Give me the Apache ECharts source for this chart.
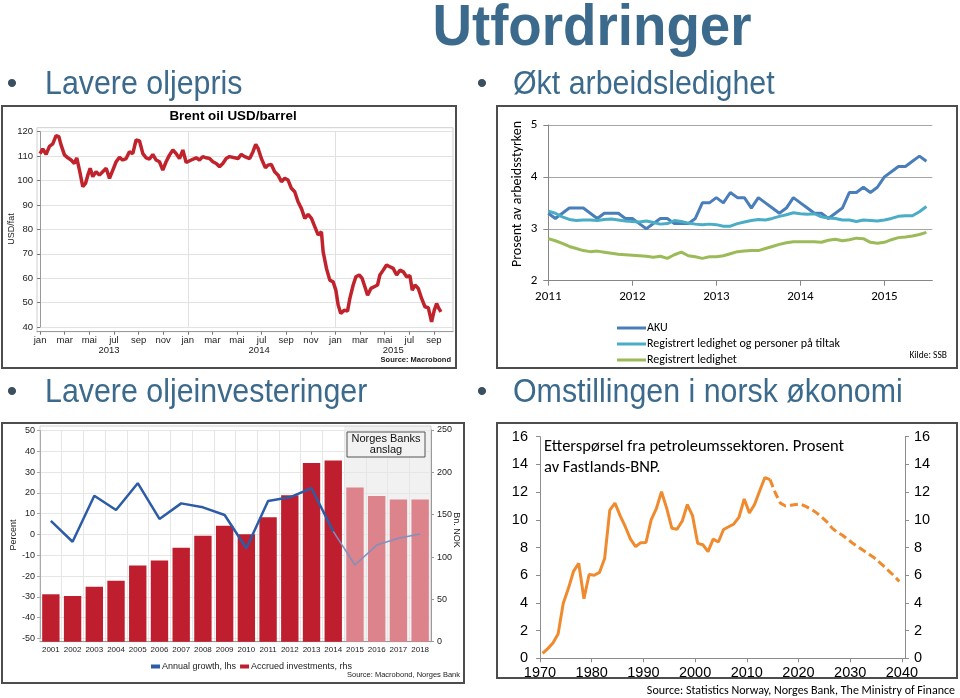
<!DOCTYPE html>
<html><head><meta charset="utf-8">
<script src="https://cdn.jsdelivr.net/npm/echarts@6/dist/echarts.min.js"></script>
<style>html,body{margin:0;padding:0;background:#fff}#c{width:960px;height:698px}</style>
</head><body><div id="c"></div>
<script>
// ---------- Brent oil (months since Jan 2013, USD/barrel) ----------
const brentMonths = [0.00,0.22,0.35,0.49,0.76,1.03,1.30,1.52,1.71,1.98,2.25,2.52,2.79,2.98,3.20,3.47,3.69,3.88,4.07,4.28,4.55,4.82,5.09,5.37,5.64,5.91,6.18,6.45,6.72,6.99,7.26,7.53,7.80,8.08,8.35,8.62,8.89,9.16,9.43,9.70,9.97,10.24,10.51,10.79,11.06,11.33,11.60,11.87,12.28,12.68,12.95,13.22,13.50,13.77,14.04,14.31,14.58,14.85,15.12,15.39,15.54,16.08,16.35,16.62,17.03,17.30,17.52,17.71,17.98,18.31,18.52,18.79,19.06,19.34,19.61,19.88,20.15,20.42,20.69,20.96,21.23,21.51,21.78,22.05,22.32,22.59,22.86,23.00,23.27,23.54,23.81,24.03,24.22,24.43,24.71,24.98,25.17,25.44,25.66,25.93,26.17,26.39,26.61,26.88,27.15,27.42,27.61,27.88,28.15,28.42,28.69,28.97,29.24,29.51,29.78,30.05,30.24,30.46,30.73,31.00,31.27,31.54,31.81,32.03,32.22,32.41,32.57];
const brentPrices = [111,113,112.5,110.7,114,115,118.4,118,114.5,110.5,109.3,108.4,107,109.3,104.3,97.5,98.8,102.2,105,101.6,103.6,102.2,103.6,105,100.9,104.3,107.7,109.5,108.4,109,111.8,111,116.6,116.2,111,109.3,108.8,110.7,108.4,107.7,104.3,107.7,110.4,112.5,111,109,112.5,107.4,108.4,109.3,108.4,109.8,109.3,109,107.7,107,105.7,107,109,109.8,109.8,109,110.7,109.8,109,111.8,114.8,113.2,109,105.2,106.3,106.6,103.6,102.2,99.5,100.9,100.2,96.8,95.4,91.3,88.6,84.5,86.1,84.5,81.1,77.7,79,70.8,64,59.2,58.5,55.1,49,45.5,46.9,46.5,51.7,57.2,60.6,61.3,59.9,56.5,53,55.8,56.5,57.2,61.3,63.3,65.4,64.7,64,61.3,63.3,62.6,60.6,61,55.1,57.2,55.8,51.7,48.3,47.9,42.1,46.9,49.6,47.5,46.2];
const monthLabels = ['jan','mar','mai','jul','sep','nov'];
const brentTickMonths = [0,2,4,6,8,10,12,14,16,18,20,22,24,26,28,30,32];
const brentYearLabels = ['2013','2014','2015'];
const brentYearLabelPos = [5.6,17.8,28.7];
const brentYearStarts = [0,12,24];

// ---------- Arbeidsledighet (monthly from Jan 2011) ----------
const ledighetStartYear = 2011;
const akuValues = [3.3,3.2,3.3,3.4,3.4,3.4,3.3,3.2,3.3,3.3,3.3,3.2,3.2,3.1,3.0,3.1,3.2,3.2,3.1,3.1,3.1,3.2,3.5,3.5,3.6,3.5,3.7,3.6,3.6,3.4,3.6,3.5,3.4,3.3,3.4,3.6,3.5,3.4,3.3,3.3,3.2,3.3,3.4,3.7,3.7,3.8,3.7,3.8,4.0,4.1,4.2,4.2,4.3,4.4,4.3];
const tiltakValues = [3.34,3.3,3.23,3.18,3.16,3.17,3.17,3.16,3.18,3.19,3.17,3.15,3.14,3.13,3.15,3.12,3.09,3.10,3.16,3.14,3.11,3.09,3.08,3.09,3.08,3.05,3.05,3.1,3.13,3.16,3.18,3.17,3.2,3.24,3.27,3.31,3.29,3.28,3.29,3.23,3.21,3.2,3.17,3.17,3.14,3.17,3.16,3.15,3.17,3.2,3.24,3.25,3.25,3.33,3.43];
const registrertValues = [2.81,2.77,2.72,2.66,2.62,2.58,2.56,2.57,2.55,2.53,2.51,2.5,2.49,2.48,2.47,2.45,2.47,2.43,2.5,2.55,2.48,2.46,2.43,2.46,2.46,2.48,2.52,2.56,2.57,2.58,2.58,2.62,2.66,2.7,2.73,2.75,2.75,2.75,2.75,2.74,2.78,2.8,2.77,2.79,2.82,2.81,2.74,2.72,2.74,2.79,2.83,2.84,2.86,2.89,2.93];
const ledighetYearTicks = [2011,2012,2013,2014,2015];
const ledighetNames = ['AKU','Registrert ledighet og personer på tiltak','Registrert ledighet'];

// ---------- Oljeinvesteringer ----------
const invYears = ['2001','2002','2003','2004','2005','2006','2007','2008','2009','2010','2011','2012','2013','2014','2015','2016','2017','2018'];
const investments = [56,54,65,72,90,96,111,125,137,127,147,173,211,214,182,172,168,168];
const growth = [6.6,-3.5,18.7,11.8,24.7,7.5,15,13.1,9.4,-6.6,16.1,17.9,22.3,1.5,-14.7,-5.1,-1.8,0.2];
const firstForecastYear = '2015';

// ---------- Petroleum demand, % of mainland GDP ----------
const petroStartYear = 1970;
const petroActual = [0.35,0.7,1.1,1.75,3.97,5.05,6.3,6.85,4.3,6.05,6.0,6.2,7.2,10.7,11.2,10.3,9.5,8.6,8.07,8.35,8.36,10.0,10.8,12.03,10.84,9.39,9.32,9.9,11.1,10.3,8.3,8.2,7.7,8.6,8.4,9.3,9.5,9.7,10.2,11.5,10.5,11.1,12.1,13.05,12.9];
const petroForecastStartYear = 2014;
const petroForecast = [12.9,11.95,11.2,11.0,11.05,11.1,11.12,10.95,10.75,10.5,10.2,9.85,9.4,9.1,8.88,8.6,8.3,8.05,7.8,7.55,7.3,6.98,6.65,6.3,5.95,5.55];
const petroYearTicks = [1970,1980,1990,2000,2010,2020,2030,2040];

// ---------- styling ----------
const SANS = '"Liberation Sans", Arial, sans-serif';
const CAL = 'Carlito, Lato, "Open Sans", sans-serif';
const HEAD = '#3b6a8c';
const RED = '#be1e2d', PINK = '#dc838b';

const chart = echarts.init(document.getElementById('c'), null, {width:960, height:698});

const fIdx = invYears.indexOf(firstForecastYear);
const actualEnd = fIdx - 1; // 2014 connects actual and forecast

function txt(text, x, y, font, fill, align, valign, rot, sx, lh) {
  const st = {text:text, font:font, fill:fill||'#000', textAlign:align||'left', textVerticalAlign:valign||'middle'};
  if (lh) st.lineHeight = lh;
  return {type:'text', x:x, y:y, rotation: rot||0, scaleX: sx||1, silent:true, z:10, style:st};
}

const graphics = [
  // panel frames
  {type:'rect', shape:{x:2,y:106,width:454,height:262}, style:{fill:'none',stroke:'#4d4d4d',lineWidth:2}, silent:true},
  {type:'rect', shape:{x:497,y:106,width:460,height:262}, style:{fill:'none',stroke:'#4d4d4d',lineWidth:2}, silent:true},
  {type:'rect', shape:{x:2,y:423,width:462,height:260}, style:{fill:'none',stroke:'#4d4d4d',lineWidth:2}, silent:true},
  {type:'rect', shape:{x:497,y:423,width:460,height:255}, style:{fill:'none',stroke:'#4d4d4d',lineWidth:2}, silent:true},
  // plot frames
  {type:'rect', shape:{x:37,y:127.7,width:416,height:204}, style:{fill:'none',stroke:'#cfcfcf',lineWidth:1}, silent:true},
  {type:'rect', shape:{x:40,y:426,width:391,height:215.7}, style:{fill:'none',stroke:'#d0d0d0',lineWidth:1}, silent:true},
  // headings
  txt('Utfordringer', 592, 29, 'bold 57px ' + SANS, HEAD, 'center', 'middle', 0, 0.96),
  txt('•', 12, 85, '30px ' + SANS, '#3a4f60', 'center'),
  txt('Lavere oljepris', 45, 85, '33px ' + SANS, HEAD, 'left', 'middle', 0, 0.92),
  txt('•', 482, 85, '30px ' + SANS, '#3a4f60', 'center'),
  txt('Økt arbeidsledighet', 513, 85, '33px ' + SANS, HEAD, 'left', 'middle', 0, 0.92),
  txt('•', 12, 393, '30px ' + SANS, '#3a4f60', 'center'),
  txt('Lavere oljeinvesteringer', 45, 393, '33px ' + SANS, HEAD, 'left', 'middle', 0, 0.92),
  txt('•', 482, 393, '30px ' + SANS, '#3a4f60', 'center'),
  txt('Omstillingen i norsk økonomi', 513, 393, '33px ' + SANS, HEAD, 'left', 'middle', 0, 0.92),
  // Brent panel
  txt('Brent oil USD/barrel', 233, 116.5, 'bold 13.4px ' + SANS, '#000', 'center'),
  txt('USD/fat', 12, 229, '9px ' + SANS, '#222', 'center', 'middle', Math.PI/2),
  txt('Source: Macrobond', 451, 359.5, 'bold 7.5px ' + SANS, '#222', 'right'),
  // unemployment panel
  txt('Prosent av arbeidsstyrken', 517, 194, '14px ' + CAL, '#000', 'center', 'middle', Math.PI/2),
  txt('Kilde: SSB', 947, 356, '9.5px ' + CAL, '#000', 'right'),
  // investments panel
  txt('Percent', 14, 535, '9px ' + SANS, '#222', 'center', 'middle', Math.PI/2),
  txt('Bn. NOK', 456, 530, '9px ' + SANS, '#222', 'center', 'middle', -Math.PI/2),
  txt('Source: Macrobond, Norges Bank', 460, 675, '7.5px ' + SANS, '#222', 'right'),
  {type:'rect', shape:{x:347,y:432,width:78,height:25}, style:{fill:'#f2f2f2',stroke:'#555',lineWidth:1}, z:9, silent:true},
  txt('Norges Banks\nanslag', 386, 444.5, '11px ' + SANS, '#111', 'center'),
  // petroleum panel
  txt('Etterspørsel fra petroleumssektoren. Prosent\nav Fastlands-BNP.', 544, 457, '16.5px ' + CAL, '#000', 'left', 'middle', 0, 1, 21),
  txt('Source: Statistics Norway, Norges Bank, The Ministry of Finance', 955, 691, '12px ' + CAL, '#000', 'right')
];

const option = {
  animation: false,
  textStyle: {fontFamily: SANS},
  grid: [
    {left:37, right:960-453, top:131.7, bottom:698-327},
    {left:548.3, right:960-932.3, top:125, bottom:698-280.7},
    {left:40, right:960-431, top:430, bottom:698-641.7},
    {left:40, right:960-431, top:430.7, bottom:698-638.3},
    {left:540, right:960-905, top:436.7, bottom:698-658.3}
  ],
  xAxis: [
    {gridIndex:0, type:'value', position:'bottom', min:-0.25, max:33.55, offset:4.7,
     axisLine:{lineStyle:{color:'#9a9a9a'}},
     axisTick:{customValues:brentTickMonths, length:3, lineStyle:{color:'#777'}},
     axisLabel:{customValues:brentTickMonths, formatter:v => monthLabels[(v % 12) / 2], fontSize:9.5, color:'#222', margin:4},
     splitLine:{show:false}},
    {gridIndex:0, type:'value', position:'bottom', min:-0.25, max:33.55, offset:4.7,
     axisLine:{show:false}, axisTick:{show:false, customValues:brentYearLabelPos},
     axisLabel:{customValues:brentYearLabelPos, formatter:v => brentYearLabels[brentYearLabelPos.indexOf(v)], fontSize:9.5, color:'#222', margin:14},
     splitLine:{show:false}},
    {gridIndex:0, type:'value', position:'bottom', min:-0.25, max:33.55,
     axisLine:{show:false}, axisTick:{show:false, customValues:brentYearStarts},
     axisLabel:{show:false, customValues:brentYearStarts},
     splitLine:{show:true, lineStyle:{color:'#e0e0e0'}}},
    {gridIndex:1, type:'value', min:2011, max:2015.57,
     axisLine:{lineStyle:{color:'#868686'}},
     axisTick:{customValues:ledighetYearTicks, length:5, lineStyle:{color:'#868686'}},
     axisLabel:{customValues:ledighetYearTicks, fontSize:13, fontFamily:CAL, color:'#000', margin:10, formatter:v => String(v)},
     splitLine:{show:false}},
    {gridIndex:2, type:'category', data:invYears,
     axisLine:{lineStyle:{color:'#999'}},
     axisTick:{length:3, lineStyle:{color:'#999'}},
     axisLabel:{interval:0, fontSize:8, color:'#222', margin:4},
     splitLine:{show:true, interval:0, lineStyle:{color:'#e6e6e6'}}},
    {gridIndex:3, type:'category', data:invYears, show:false},
    {gridIndex:4, type:'value', min:1970, max:2040.6,
     axisLine:{lineStyle:{color:'#8c8c8c'}},
     axisTick:{customValues:petroYearTicks, length:4, lineStyle:{color:'#8c8c8c'}},
     axisLabel:{customValues:petroYearTicks, fontSize:14.5, color:'#000', margin:7, formatter:v => String(v)},
     splitLine:{show:false}}
  ],
  yAxis: [
    {gridIndex:0, type:'value', min:40, max:120, interval:10,
     axisLine:{show:true, lineStyle:{color:'#9a9a9a'}}, axisTick:{show:true, length:3, lineStyle:{color:'#777'}},
     axisLabel:{fontSize:9.5, color:'#222', margin:4}, splitLine:{lineStyle:{color:'#e2e2e2'}}},
    {gridIndex:1, type:'value', min:2, max:5, interval:1,
     axisLine:{show:true, lineStyle:{color:'#868686'}}, axisTick:{show:true, length:5, lineStyle:{color:'#868686'}},
     axisLabel:{fontSize:13, fontFamily:CAL, color:'#000', margin:11}, splitLine:{lineStyle:{color:'#a6a6a6'}}},
    {gridIndex:2, type:'value', position:'right', min:0, max:250, interval:50,
     axisLine:{show:true, lineStyle:{color:'#999'}}, axisTick:{show:true, length:3, lineStyle:{color:'#999'}},
     axisLabel:{fontSize:9, color:'#222', margin:6}, splitLine:{show:false}},
    {gridIndex:3, type:'value', position:'left', min:-50, max:50, interval:10,
     axisLine:{show:true, lineStyle:{color:'#aaa'}}, axisTick:{show:true, length:3, lineStyle:{color:'#aaa'}},
     axisLabel:{fontSize:9, color:'#222', margin:5}, splitLine:{lineStyle:{color:'#e6e6e6'}}},
    {gridIndex:4, type:'value', position:'left', min:0, max:16, interval:2,
     axisLine:{show:true, lineStyle:{color:'#8c8c8c'}}, axisTick:{show:true, length:4, lineStyle:{color:'#8c8c8c'}},
     axisLabel:{fontSize:14.5, color:'#000', margin:12}, splitLine:{show:false}},
    {gridIndex:4, type:'value', position:'right', min:0, max:16, interval:2,
     axisLine:{show:true, lineStyle:{color:'#8c8c8c'}}, axisTick:{show:true, length:4, lineStyle:{color:'#8c8c8c'}},
     axisLabel:{fontSize:14.5, color:'#000', margin:9}, splitLine:{show:false}}
  ],
  legend: [
    {data:ledighetNames, orient:'vertical', left:612, top:316, itemWidth:29, itemHeight:3, itemGap:2, icon:'rect',
     textStyle:{fontFamily:CAL, fontSize:12, color:'#000', padding:[0,0,0,-4], lineHeight:14}},
    {data:[{name:'Annual growth, lhs', icon:'rect'}, {name:'Accrued investments, rhs', icon:'rect'}],
     left:146, top:657, itemWidth:9, itemHeight:4, itemGap:4,
     textStyle:{fontSize:9, color:'#222', padding:[0,0,0,-3]}}
  ],
  series: [
    {name:'Brent', type:'line', xAxisIndex:0, yAxisIndex:0, symbol:'none', z:3,
     data:brentMonths.map((m,i) => [m, brentPrices[i]]), lineStyle:{color:'#c1232d', width:3.5}},
    {name:ledighetNames[0], type:'line', xAxisIndex:3, yAxisIndex:1, symbol:'none', color:'#4a7ebb',
     data:akuValues.map((v,i) => [ledighetStartYear + i/12, v]), lineStyle:{width:3}},
    {name:ledighetNames[1], type:'line', xAxisIndex:3, yAxisIndex:1, symbol:'none', color:'#4bacc6',
     data:tiltakValues.map((v,i) => [ledighetStartYear + i/12, v]), lineStyle:{width:3}},
    {name:ledighetNames[2], type:'line', xAxisIndex:3, yAxisIndex:1, symbol:'none', color:'#9bbb59',
     data:registrertValues.map((v,i) => [ledighetStartYear + i/12, v]), lineStyle:{width:3}},
    {name:'Accrued investments, rhs', type:'bar', xAxisIndex:4, yAxisIndex:2, barCategoryGap:'20%', z:2, color:RED,
     data:investments.map((v,i) => i >= fIdx ? {value:v, itemStyle:{color:PINK}} : v)},
    {name:'Annual growth, lhs', type:'line', xAxisIndex:5, yAxisIndex:3, symbol:'none', z:5, color:'#2d5ca6',
     data:growth.map((v,i) => i <= actualEnd ? v : null), lineStyle:{width:2.5}},
    {name:'Annual growth forecast', type:'line', xAxisIndex:5, yAxisIndex:3, symbol:'none', z:5, color:'#8090bd',
     data:growth.map((v,i) => i >= actualEnd ? v : null), lineStyle:{width:1.5}},
    {name:'Petro actual', type:'line', xAxisIndex:6, yAxisIndex:4, symbol:'none', color:'#f08a2e',
     data:petroActual.map((v,i) => [petroStartYear + i + 0.5, v]), lineStyle:{width:3}},
    {name:'Petro forecast', type:'line', xAxisIndex:6, yAxisIndex:4, symbol:'none', color:'#f08a2e',
     data:petroForecast.map((v,i) => [petroForecastStartYear + i + 0.5, v]), lineStyle:{width:3, type:[8,4]}}
  ],
  graphic: graphics
};
chart.setOption(option);

// forecast shading behind the forecast bars, located through the category axis
const cStart = chart.convertToPixel({xAxisIndex:4}, firstForecastYear);
const cPrev = chart.convertToPixel({xAxisIndex:4}, invYears[fIdx-1]);
const cLast = chart.convertToPixel({xAxisIndex:4}, invYears[invYears.length-1]);
const band = cStart - cPrev;
const yTop = chart.convertToPixel({yAxisIndex:2}, 250);
const yBot = chart.convertToPixel({yAxisIndex:2}, 0);
chart.setOption({graphic: graphics.concat([
  {type:'rect', z:-1, silent:true, shape:{x:cStart - band/2, y:yTop - 4, width:(cLast - cStart) + band, height:yBot - yTop + 4},
   style:{fill:'#f1f1f1'}}
])});
</script></body></html>
